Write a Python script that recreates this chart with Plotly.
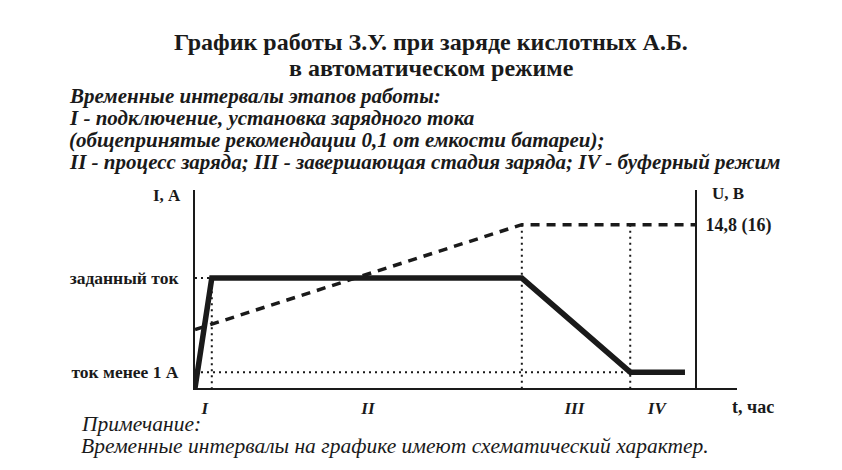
import plotly.graph_objects as go

# schematic time points (arbitrary units) and phase boundaries
t_current = [0.0, 0.31, 6.03, 8.03, 9.04]
i_current = [0.0, 5.55, 5.55, 0.8, 0.8]

t_voltage = [0.0, 6.03, 9.24]
u_voltage = [2.95, 8.25, 8.25]

t_bounds = [0.31, 6.03, 8.03]
i_set = 5.55
i_min = 0.8
u_max = 8.25

phase_pos = [0.18, 3.19, 7.0, 8.52]
phase_labels = ['I', 'II', 'III', 'IV']
i_ticks = [i_min, i_set]
i_labels = ['ток менее 1 А', 'заданный ток']
u_ticks = [u_max]
u_labels = ['14,8 (16)']

serif = 'Liberation Serif'
black = '#1a1a1a'

# plot area in page pixels (the page body adds an 8px offset)
X0, X1, Y0, Y1 = 195, 737, 190, 388

fig = go.Figure()

# dotted guide lines
dot = dict(color=black, width=2, dash='2px,4px')
fig.add_trace(go.Scatter(x=[0, t_bounds[0], t_bounds[0]], y=[i_set, i_set, 0],
                         mode='lines', line=dot, hoverinfo='skip'))
fig.add_trace(go.Scatter(x=[0, t_bounds[2], None, t_bounds[1], t_bounds[1], None,
                            t_bounds[2], t_bounds[2]],
                         y=[i_min, i_min, None, u_max, 0, None, u_max, 0],
                         mode='lines', line=dot, hoverinfo='skip'))

# voltage (dashed)
fig.add_trace(go.Scatter(x=t_voltage, y=u_voltage, mode='lines',
                         line=dict(color=black, width=3.5, dash='9px,7px')))
# current (thick solid)
fig.add_trace(go.Scatter(x=t_current, y=i_current, mode='lines',
                         line=dict(color=black, width=5.5)))

fig.update_layout(
    width=834, height=462,
    margin=dict(l=X0 - 8, r=842 - X1, t=Y0 - 8, b=470 - Y1),
    paper_bgcolor='white', plot_bgcolor='white',
    showlegend=False,
    font=dict(family=serif, color=black),
    xaxis=dict(range=[0, 10], showgrid=False, zeroline=False,
               showline=True, linecolor=black, linewidth=2,
               tickvals=phase_pos, ticktext=['<b><i>%s</i></b>' % s for s in phase_labels],
               ticks='', tickfont=dict(size=17, family=serif), ticklabelstandoff=4),
    yaxis=dict(range=[0, 10], showgrid=False, zeroline=False,
               showline=True, linecolor=black, linewidth=2,
               tickvals=i_ticks, ticktext=['<b>%s</b>' % s for s in i_labels],
               ticks='', tickfont=dict(size=17.5, family=serif), ticklabelstandoff=11),
    yaxis2=dict(range=[0, 10], overlaying='y', side='right', showgrid=False,
                zeroline=False, showline=True, linecolor=black, linewidth=2,
                anchor='free', position=(696 - X0) / (X1 - X0),
                tickvals=u_ticks, ticktext=['<b>%s</b>' % s for s in u_labels], ticks='',
                tickfont=dict(size=18, family=serif), ticklabelstandoff=5),
)
# dummy trace so the right axis is drawn
fig.add_trace(go.Scatter(x=[None], y=[None], yaxis='y2'))

notes = [
    ('<b>График работы З.У. при заряде кислотных А.Б.</b>', 431, 42, 24, 'center'),
    ('<b>в автоматическом режиме</b>', 431, 68, 24, 'center'),
    ('<b><i>Временные интервалы этапов работы:</i></b>', 67, 96, 21, 'left'),
    ('<b><i>I - подключение, установка зарядного тока</i></b>', 67, 118, 21, 'left'),
    ('<b><i>(общепринятые рекомендации 0,1 от емкости батареи);</i></b>', 67, 140, 21, 'left'),
    ('<b><i>II - процесс заряда; III - завершающая стадия заряда; IV - буферный режим</i></b>',
     67, 162, 21, 'left'),
    ('<i>Примечание:</i>', 79, 424, 21.5, 'left'),
    ('<i>Временные интервалы на графике имеют схематический характер.</i>', 79, 446, 21.5, 'left'),
    ('<b>I, А</b>', 167, 195, 17, 'center'),
    ('<b>U, В</b>', 728, 193, 17, 'center'),
    ('<b>t, час</b>', 753, 407, 18, 'center'),
]
for text, px, py, size, align in notes:
    fig.add_annotation(text=text, xref='paper', yref='paper',
                       x=(px - X0) / (X1 - X0), y=(Y1 - py) / (Y1 - Y0),
                       xanchor=align, yanchor='middle', showarrow=False,
                       font=dict(size=size, family=serif, color=black))

fig.write_html('out.html')
